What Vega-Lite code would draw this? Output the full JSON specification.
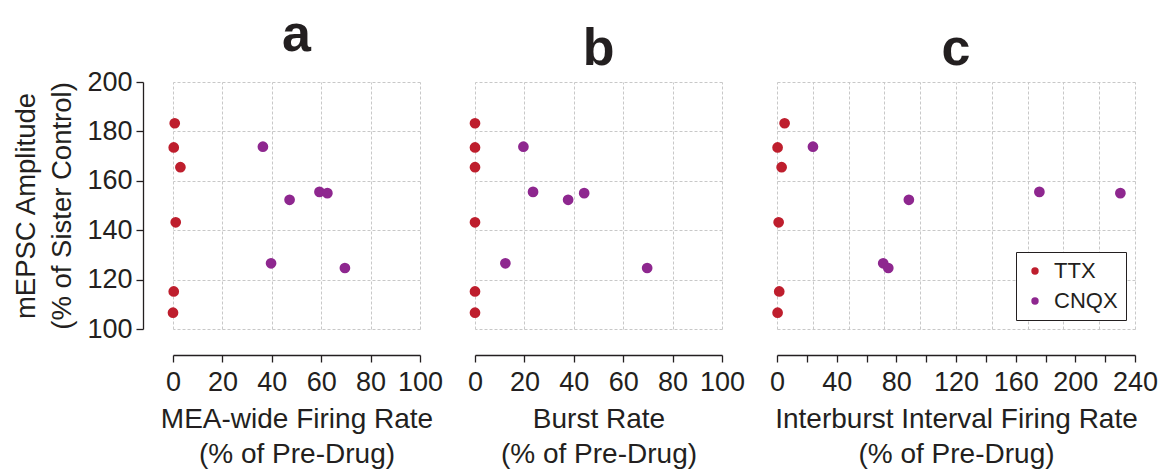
{
  "$schema": "https://vega.github.io/schema/vega-lite/v6.json",
  "padding": {"left": 12, "top": 9, "right": 5, "bottom": 5},
  "background": "white",
  "datasets": {
    "pts": [
      {"drug": "TTX", "amp": 183.3, "mea": 0.7, "burst": 0, "ibi": 5.1},
      {"drug": "TTX", "amp": 173.5, "mea": 0.3, "burst": 0, "ibi": 0.4},
      {"drug": "TTX", "amp": 165.5, "mea": 3.0, "burst": 0, "ibi": 3.1},
      {"drug": "TTX", "amp": 143.2, "mea": 1.1, "burst": 0, "ibi": 1.1},
      {"drug": "TTX", "amp": 115.2, "mea": 0.3, "burst": 0, "ibi": 1.5},
      {"drug": "TTX", "amp": 106.6, "mea": 0.0, "burst": 0, "ibi": 0.4},
      {"drug": "CNQX", "amp": 173.8, "mea": 36.4, "burst": 19.6, "ibi": 24.1},
      {"drug": "CNQX", "amp": 155.5, "mea": 59.3, "burst": 23.5, "ibi": 175.9},
      {"drug": "CNQX", "amp": 155.0, "mea": 62.5, "burst": 44.2, "ibi": 230.2},
      {"drug": "CNQX", "amp": 152.3, "mea": 47.2, "burst": 37.7, "ibi": 88.4},
      {"drug": "CNQX", "amp": 126.6, "mea": 39.7, "burst": 12.3, "ibi": 71.2},
      {"drug": "CNQX", "amp": 124.7, "mea": 69.6, "burst": 69.7, "ibi": 74.6}
    ]
  },
  "data": {"name": "pts"},
  "bounds": "flush",
  "spacing": 55,
  "hconcat": [
    {
      "width": 247, "height": 247,
      "title": {"text": "a", "fontSize": 52, "fontWeight": "bold", "anchor": "middle", "frame": "group", "color": "#231F20", "offset": 6},
      "layer": [
        {
          "mark": {"type": "point", "opacity": 0},
          "encoding": {
            "x": {"field": "mea", "type": "quantitative", "scale": {"domain": [0, 100], "nice": false, "zero": false},
                  "axis": {"orient": "top", "grid": true, "values": [0, 20, 40, 60, 80, 100], "labels": false, "ticks": false, "domain": false, "title": null}},
            "y": {"field": "amp", "type": "quantitative", "scale": {"domain": [100, 200], "nice": false, "zero": false},
                  "axis": {"orient": "right", "grid": true, "values": [100, 120, 140, 160, 180, 200], "labels": false, "ticks": false, "domain": false, "title": null}}
          }
        },
        {
          "mark": {"type": "circle", "size": 115, "opacity": 1},
          "encoding": {
            "x": {"field": "mea", "type": "quantitative",
                  "axis": {"orient": "bottom", "offset": 26, "grid": false, "values": [0, 20, 40, 60, 80, 100], "title": ["MEA-wide Firing Rate", "(% of Pre-Drug)"]}},
            "y": {"field": "amp", "type": "quantitative",
                  "axis": {"orient": "left", "offset": 30, "grid": false, "values": [100, 120, 140, 160, 180, 200], "labelFontSize": 27, "labelPadding": 4, "title": ["mEPSC Amplitude", "(% of Sister Control)"], "titleFontSize": 27.5, "titleLineHeight": 36, "titlePadding": 10}},
            "color": {"field": "drug", "type": "nominal", "scale": {"domain": ["TTX", "CNQX"], "range": ["#BE1E2D", "#8E278F"]}, "legend": null}
          }
        }
      ],
      "resolve": {"axis": {"x": "independent", "y": "independent"}}
    },
    {
      "width": 247, "height": 247,
      "title": {"text": "b", "fontSize": 52, "fontWeight": "bold", "anchor": "middle", "frame": "group", "color": "#231F20", "offset": 6},
      "layer": [
        {
          "mark": {"type": "point", "opacity": 0},
          "encoding": {
            "x": {"field": "burst", "type": "quantitative", "scale": {"domain": [0, 100], "nice": false, "zero": false},
                  "axis": {"orient": "top", "grid": true, "values": [0, 20, 40, 60, 80, 100], "labels": false, "ticks": false, "domain": false, "title": null}},
            "y": {"field": "amp", "type": "quantitative", "scale": {"domain": [100, 200], "nice": false, "zero": false},
                  "axis": {"orient": "right", "grid": true, "values": [100, 120, 140, 160, 180, 200], "labels": false, "ticks": false, "domain": false, "title": null}}
          }
        },
        {
          "mark": {"type": "circle", "size": 115, "opacity": 1},
          "encoding": {
            "x": {"field": "burst", "type": "quantitative",
                  "axis": {"orient": "bottom", "offset": 26, "grid": false, "values": [0, 20, 40, 60, 80, 100], "title": ["Burst Rate", "(% of Pre-Drug)"]}},
            "y": {"field": "amp", "type": "quantitative", "axis": null},
            "color": {"field": "drug", "type": "nominal", "scale": {"domain": ["TTX", "CNQX"], "range": ["#BE1E2D", "#8E278F"]}, "legend": null}
          }
        }
      ],
      "resolve": {"axis": {"x": "independent", "y": "independent"}}
    },
    {
      "width": 358, "height": 247,
      "title": {"text": "c", "fontSize": 52, "fontWeight": "bold", "anchor": "middle", "frame": "group", "color": "#231F20", "offset": 6},
      "layer": [
        {
          "mark": {"type": "point", "opacity": 0},
          "encoding": {
            "x": {"field": "ibi", "type": "quantitative", "scale": {"domain": [0, 240], "nice": false, "zero": false},
                  "axis": {"orient": "top", "grid": true, "values": [0, 24, 48, 72, 96, 120, 144, 168, 192, 216, 240], "labels": false, "ticks": false, "domain": false, "title": null}},
            "y": {"field": "amp", "type": "quantitative", "scale": {"domain": [100, 200], "nice": false, "zero": false},
                  "axis": {"orient": "right", "grid": true, "values": [100, 120, 140, 160, 180, 200], "labels": false, "ticks": false, "domain": false, "title": null}}
          }
        },
        {
          "mark": {"type": "circle", "size": 115, "opacity": 1},
          "encoding": {
            "x": {"field": "ibi", "type": "quantitative",
                  "axis": {"orient": "bottom", "offset": 26, "grid": false, "values": [0, 20, 40, 60, 80, 100, 120, 140, 160, 180, 200, 220, 240], "labelExpr": "datum.value % 40 == 0 ? datum.label : ''", "title": ["Interburst Interval Firing Rate", "(% of Pre-Drug)"]}},
            "y": {"field": "amp", "type": "quantitative", "axis": null},
            "color": {"field": "drug", "type": "nominal", "scale": {"domain": ["TTX", "CNQX"], "range": ["#BE1E2D", "#8E278F"]},
                      "legend": {"orient": "bottom-right", "offset": 9, "title": null, "labelFontSize": 22, "labelColor": "#231F20", "symbolType": "circle", "symbolSize": 55, "symbolStrokeWidth": 0, "strokeColor": "#231F20", "padding": 8, "rowPadding": 8, "labelOffset": 8, "fillColor": "white"}}
          }
        }
      ],
      "resolve": {"axis": {"x": "independent", "y": "independent"}}
    }
  ],
  "resolve": {"legend": {"color": "independent"}},
  "config": {
    "font": "Liberation Sans",
    "view": {"stroke": null},
    "axis": {
      "gridColor": "#c8c8c8", "gridDash": [3, 2], "gridWidth": 1,
      "domainColor": "#231F20", "domainWidth": 1.3, "tickColor": "#231F20", "tickWidth": 1.3, "tickSize": 7,
      "labelFont": "Liberation Sans", "labelFontSize": 27, "labelColor": "#231F20", "labelPadding": 7,
      "titleFont": "Liberation Sans", "titleFontSize": 28, "titleFontWeight": "normal", "titleColor": "#231F20", "titleLineHeight": 35, "titlePadding": 10,
      "labelFlush": false, "labelOverlap": false
    },
    "legend": {"labelFont": "Liberation Sans"}
  }
}
